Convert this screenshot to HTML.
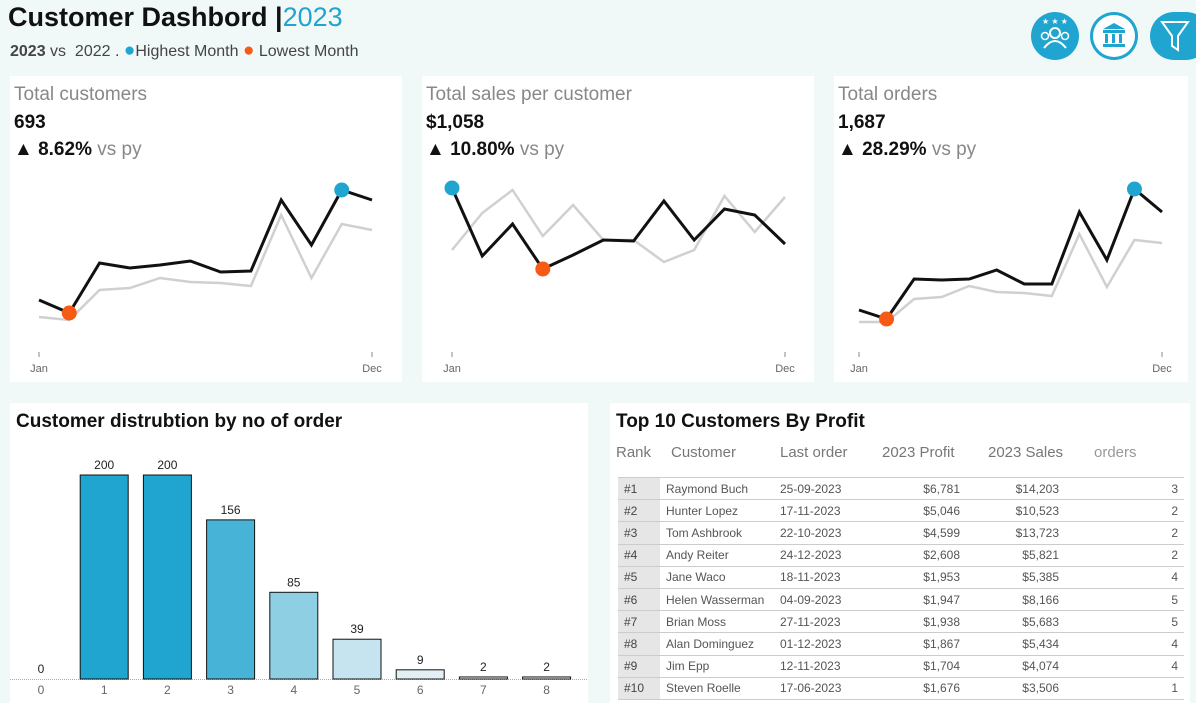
<!DOCTYPE html>
<html><head><meta charset="utf-8">
<style>
body{margin:0;width:1196px;height:703px;background:#f1f8f8;font-family:"Liberation Sans",sans-serif;position:relative;overflow:hidden}
.abs{position:absolute}
.panel{position:absolute;background:#fff}
.kt{font-size:19px;color:#888;position:absolute;left:4px;top:8px}
.kv{font-size:19px;font-weight:bold;color:#111;position:absolute;left:4px;top:36px}
.kp{font-size:19px;position:absolute;left:4px;top:63px;font-weight:bold;color:#111}
.kp span{font-weight:normal;color:#888}
table{border-collapse:collapse;font-size:12px;color:#555}
td{height:21.2px;border-bottom:1px solid #ccc;padding:0}
</style></head><body>
<div class="abs" style="left:8px;top:2px;font-size:27px;font-weight:bold;color:#111">Customer Dashbord |<span style="color:#1fa5d0;font-weight:normal">2023</span></div>
<div class="abs" style="left:10px;top:40px;font-size:16px;color:#444"><b>2023</b> vs &nbsp;2022 . <span style="color:#1fa5d0;font-size:19px">●</span>Highest Month <span style="color:#f75a14;font-size:19px">●</span> Lowest Month</div>
<svg class="abs" style="left:1020px;top:0" width="176" height="75">
<g><circle cx="35" cy="36" r="24" fill="#1fa5d0"/><circle cx="35" cy="33" r="5" fill="none" stroke="#fff" stroke-width="2"/><path d="M24 48 Q35 34 46 48" fill="none" stroke="#fff" stroke-width="2"/><circle cx="25" cy="36" r="3.5" fill="none" stroke="#fff" stroke-width="1.5"/><circle cx="45" cy="36" r="3.5" fill="none" stroke="#fff" stroke-width="1.5"/><text x="35" y="24" text-anchor="middle" fill="#fff" font-size="8">★ ★ ★</text></g>
<g><circle cx="94" cy="36" r="24" fill="#1fa5d0"/><circle cx="94" cy="36" r="21" fill="#fff"/><rect x="83" y="30" width="22" height="3" fill="#1fa5d0"/><rect x="85" y="34" width="3" height="9" fill="#1fa5d0"/><rect x="92" y="34" width="3" height="9" fill="#1fa5d0"/><rect x="99" y="34" width="3" height="9" fill="#1fa5d0"/><rect x="83" y="44" width="22" height="3" fill="#1fa5d0"/><path d="M83 29 L94 23 L105 29Z" fill="#1fa5d0"/></g>
<g><rect x="130" y="12" width="60" height="48" rx="24" fill="#1fa5d0"/><path d="M142 22 L168 22 L158 36 L158 50 L152 46 L152 36Z" fill="none" stroke="#fff" stroke-width="2"/></g>
</svg>

<div class="panel" style="left:10px;top:76px;width:392px;height:306px">
<div class="kt">Total customers</div><div class="kv">693</div><div class="kp">▲ 8.62% <span>vs py</span></div>
<svg id="c1" class="abs" style="left:0;top:0" width="392" height="306"></svg></div>
<div class="panel" style="left:422px;top:76px;width:392px;height:306px">
<div class="kt">Total sales per customer</div><div class="kv">$1,058</div><div class="kp">▲ 10.80% <span>vs py</span></div>
<svg id="c2" class="abs" style="left:0;top:0" width="392" height="306"></svg></div>
<div class="panel" style="left:834px;top:76px;width:354px;height:306px">
<div class="kt">Total orders</div><div class="kv">1,687</div><div class="kp">▲ 28.29% <span>vs py</span></div>
<svg id="c3" class="abs" style="left:0;top:0" width="354" height="306"></svg></div>

<div class="panel" style="left:10px;top:403px;width:578px;height:300px">
<div class="abs" style="left:6px;top:8px;font-size:19px;font-weight:bold;color:#111">Customer distrubtion by no of order</div>
<svg id="bars" class="abs" style="left:0;top:0" width="578" height="300"></svg></div>

<div class="panel" style="left:610px;top:403px;width:580px;height:300px">
<div class="abs" style="left:6px;top:8px;font-size:19px;font-weight:bold;color:#111">Top 10 Customers By Profit</div>
<div class="abs" style="top:41px;left:6px;font-size:15px;color:#777;width:570px">
<span class="abs" style="left:0">Rank</span><span class="abs" style="left:55px">Customer</span><span class="abs" style="left:164px">Last order</span><span class="abs" style="left:266px">2023 Profit</span><span class="abs" style="left:372px">2023 Sales</span><span class="abs" style="left:478px;color:#999">orders</span></div>
<table class="abs" style="left:8px;top:74px;width:566px;border-top:1px solid #ccc"><tbody id="tb"></tbody></table>
</div>

<script>
const months=['Jan','Feb','Mar','Apr','May','Jun','Jul','Aug','Sep','Oct','Nov','Dec'];
const cust2023=[50,37,87,82,85,89,78,79,150,105,160,150];
const cust2022=[33,30,60,62,72,68,67,64,135,72,126,120];
const spc2023=[162,94,126,81,95,110,109,149,110,141,135,106];
const spc2022=[100,137,160,114,145,110,110,88,100,154,118,153];
const ord2023=[40,31,71,70,71,80,66,66,138,90,161,138];
const ord2022=[28,28,51,53,64,58,57,54,116,63,110,107];
const ns='http://www.w3.org/2000/svg';
function mk(t,a,p){const e=document.createElementNS(ns,t);for(const k in a)e.setAttribute(k,a[k]);p.appendChild(e);return e;}
function line(id,x0,x1,cur,prev){
 const s=document.getElementById(id);
 const xs=i=>x0+(x1-x0)*i/11, ys=v=>274-v;
 const pp=mk('polyline',{points:prev.map((v,i)=>xs(i)+','+ys(v)).join(' '),fill:'none',stroke:'#d0d0d0','stroke-width':2.5},s);
 
 const pc=mk('polyline',{points:cur.map((v,i)=>xs(i)+','+ys(v)).join(' '),fill:'none',stroke:'#111','stroke-width':3},s);
 
 const hi=cur.indexOf(Math.max(...cur)),lo=cur.indexOf(Math.min(...cur));
 const h=mk('circle',{cx:xs(hi),cy:ys(cur[hi]),r:7.5,fill:'#1fa5d0'},s);
 
 const l=mk('circle',{cx:xs(lo),cy:ys(cur[lo]),r:7.5,fill:'#f75a14'},s);
 
 [[0,'Jan'],[11,'Dec']].forEach(([i,t])=>{
  mk('line',{x1:xs(i),x2:xs(i),y1:276,y2:281,stroke:'#888'},s);
  const tx=mk('text',{x:xs(i),y:296,'text-anchor':'middle','font-size':11,fill:'#666'},s);tx.textContent=t;
  
 });
}
line('c1',29,362,cust2023,cust2022);
line('c2',30,363,spc2023,spc2022);
line('c3',25,328,ord2023,ord2022);

const bins=['0','1','2','3','4','5','6','7','8'];
const counts=[0,200,200,156,85,39,9,2,2];
const colors=['#1fa5d0','#1fa5d0','#1fa5d0','#47b3d6','#8fcfe3','#c5e4ef','#e2f0f5','#eef7fa','#eef7fa'];
(function(){
 const s=document.getElementById('bars');
 const xs=i=>31+i*63.2, ys=v=>276-v*1.02;
 mk('line',{x1:0,x2:578,y1:276.5,y2:276.5,stroke:'#aaa','stroke-dasharray':'1,1'},s);
 counts.forEach((v,i)=>{
  if(v>0){const r=mk('rect',{x:xs(i)-24,y:ys(v),width:48,height:276-ys(v),fill:colors[i],stroke:'#111','stroke-width':1},s);
  }
  const t=mk('text',{x:xs(i),y:ys(v)-6,'text-anchor':'middle','font-size':12,fill:'#222'},s);t.textContent=v;
  
  const x=mk('text',{x:xs(i),y:291,'text-anchor':'middle','font-size':12,fill:'#666'},s);x.textContent=bins[i];
  
 });
})();

const rows=[['Raymond Buch','25-09-2023','$6,781','$14,203',3],['Hunter Lopez','17-11-2023','$5,046','$10,523',2],['Tom Ashbrook','22-10-2023','$4,599','$13,723',2],['Andy Reiter','24-12-2023','$2,608','$5,821',2],['Jane Waco','18-11-2023','$1,953','$5,385',4],['Helen Wasserman','04-09-2023','$1,947','$8,166',5],['Brian Moss','27-11-2023','$1,938','$5,683',5],['Alan Dominguez','01-12-2023','$1,867','$5,434',4],['Jim Epp','12-11-2023','$1,704','$4,074',4],['Steven Roelle','17-06-2023','$1,676','$3,506',1]];
const tb=document.getElementById('tb');
rows.forEach((r,i)=>{
 const tr=document.createElement('tr');
 
 
 tr.innerHTML=`<td style="width:36px;background:#e6e6e6;padding-left:6px;color:#444">#${i+1}</td><td style="width:111px;padding-left:6px">${r[0]}</td><td style="width:90px;padding-left:3px">${r[1]}</td><td style="width:90px;text-align:right">${r[2]}</td><td style="width:99px;text-align:right">${r[3]}</td><td style="text-align:right;padding-right:6px">${r[4]}</td>`;
 tb.appendChild(tr);
});
</script>
</body></html>
